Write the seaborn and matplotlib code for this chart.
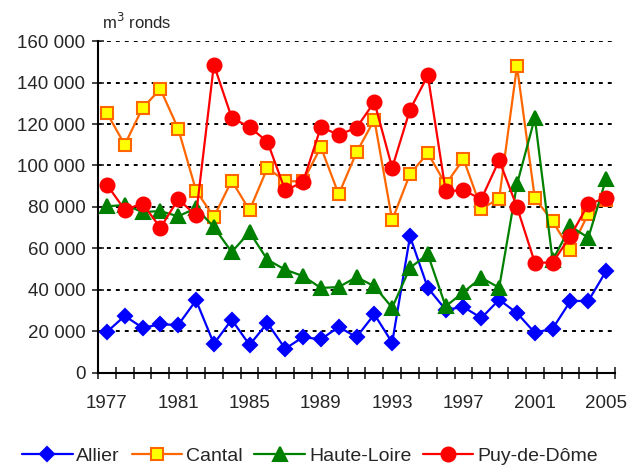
import numpy as np
import pandas as pd
import matplotlib
matplotlib.use("Agg")
import matplotlib.pyplot as plt
import seaborn as sns
from matplotlib.ticker import FuncFormatter, MultipleLocator

years = list(range(1977, 2006))

allier = [19800, 27500, 21800, 23400, 23200, 35000, 14100, 25700, 13500, 24100,
          11700, 17300, 16200, 22200, 17300, 28300, 14600, 65800, 41000, 30500,
          31800, 26500, 35300, 28900, 19400, 21400, 34700, 34700, 49100]
cantal = [125300, 110000, 127800, 136800, 117700, 87900, 75200, 92700, 78400, 98800,
          92500, 92300, 108900, 86100, 106300, 122100, 73700, 95900, 106000, 90900,
          103100, 79200, 84000, 147900, 84300, 73100, 59100, 76800, 83500]
haute_loire = [80300, 81000, 77600, 78000, 75500, 79500, 70300, 58300, 67900, 54600,
               49800, 46700, 41000, 41400, 46200, 41800, 31500, 50700, 57200, 32100,
               39000, 45900, 41100, 90900, 123000, 54300, 70700, 65200, 93600]
puy_de_dome = [90700, 78700, 81600, 70000, 83700, 76000, 148600, 123000, 118500, 111500,
               88000, 92000, 118500, 114800, 118200, 130600, 98900, 126900, 143400, 87700,
               88000, 83800, 102500, 80000, 53200, 53200, 66000, 81300, 84500]

series = {
    "Allier": allier,
    "Cantal": cantal,
    "Haute-Loire": haute_loire,
    "Puy-de-Dôme": puy_de_dome,
}

# line colour, marker, face colour, edge colour, marker size
styles = {
    "Allier": ("#0000ff", "D", "#0000ff", "#0000ff", 7),
    "Cantal": ("#ff6600", "s", "#ffff00", "#ff6600", 8.5),
    "Haute-Loire": ("#008000", "^", "#008000", "#008000", 10),
    "Puy-de-Dôme": ("#ff0000", "o", "#ff0000", "#ff0000", 10),
}

df = pd.DataFrame(
    [(name, i, v) for name, vals in series.items() for i, v in enumerate(vals)],
    columns=["region", "pos", "volume"],
)

sns.set_style("white")
plt.rcParams["font.family"] = ["Liberation Sans", "DejaVu Sans"]

fig = plt.figure(figsize=(6.29, 4.66), dpi=100)
ax = fig.add_axes([0.1558, 0.1996, 0.822, 0.7124])

for name in series:
    color, marker, face, edge, size = styles[name]
    sub = df[df["region"] == name]
    sns.lineplot(data=sub, x="pos", y="volume", ax=ax, color=color, lw=1.6,
                 marker=marker, markersize=size, markerfacecolor=face,
                 markeredgecolor=edge, markeredgewidth=1.5, label=name,
                 clip_on=False, zorder=3)

ax.set_xlim(-0.5, len(years) - 0.5)
ax.set_ylim(0, 160000)

# y axis
ax.yaxis.set_major_locator(MultipleLocator(20000))
ax.yaxis.set_major_formatter(FuncFormatter(lambda v, p: f"{int(v):,}".replace(",", " ")))
ax.grid(axis="y", color="black", linestyle=(0, (2, 2.6)), linewidth=1.4, zorder=0)
ax.tick_params(axis="y", direction="inout", length=8, width=1.2, labelsize=13.5, pad=5, left=True)

# x axis: ticks between categories, labels every 4 years
ax.set_xticks(np.arange(-0.5, len(years), 1.0), minor=True)
ax.set_xticks(range(0, len(years), 4))
ax.set_xticklabels([str(years[i]) for i in range(0, len(years), 4)])
ax.tick_params(axis="x", which="major", length=0, labelsize=13.5, pad=16)
ax.tick_params(axis="x", which="minor", direction="inout", length=8, width=1.2, bottom=True)

for side in ["top", "right"]:
    ax.spines[side].set_visible(False)
for side in ["left", "bottom"]:
    ax.spines[side].set_linewidth(1.5)
    ax.spines[side].set_color("black")

ax.set_xlabel("")
ax.set_ylabel("")

fig.text(0.162, 0.953, "m$^3$ ronds", fontsize=12, ha="left", va="center")

ax.legend(loc="center", bbox_to_anchor=(0.41, -0.25), ncol=4, frameon=False,
          fontsize=14, handlelength=2.6, handletextpad=0.2, columnspacing=0.6,
          borderaxespad=0)

fig.savefig("out.png", dpi=100)
